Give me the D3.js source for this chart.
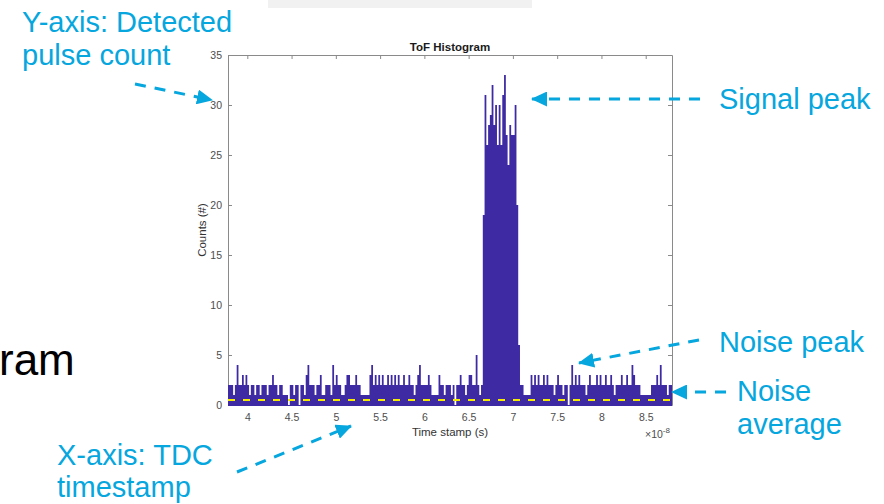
<!DOCTYPE html>
<html lang="en">
<head>
<meta charset="UTF-8">
<title>ToF Histogram</title>
<script src="https://cdn.jsdelivr.net/npm/d3@7"></script>
<style>
  body { margin: 0; background: #fff; }
  svg text { font-family: "Liberation Sans", Arial, sans-serif; }
</style>
</head>
<body>
<div id="viz"></div>
<script>
// histogram counts, bin width 0.02 (x1e-8 s), first bin starts at 3.78
var binStart = 3.78, binWidth = 0.02;

var noiseBefore = [
  2,2,2,1,2,4,2,2,3,2,  3,2,1,2,2,1,2,2,1,2,
  2,2,1,2,2,3,2,2,1,2,  2,1,1,1,0,2,2,1,2,2,
  0,2,2,1,3,4,2,2,2,1,  2,2,3,1,1,2,2,2,1,4,
  2,3,2,2,1,1,2,3,3,2,  2,2,3,2,2,1,1,1,1,1,
  3,4,2,3,2,3,2,3,2,2,  3,2,3,2,3,2,3,2,2,3,
  2,2,3,2,2,1,2,3,4,2,  2,2,2,3,2,1,1,1,1,3,
  2,2,1,2,2,2,1,2,0,2,  2,3,2,2,1,2,3,3,2,2,
  5,2,1,2
];
var signalPeak = [19,31,26,28,29,32,28,30,26,30,26,31,33,27,24,28,27,27,30,20,6,2];
var noiseAfter = [
  2,1,1,1,
  1,3,2,3,2,3,2,2,3,2,  3,2,2,2,1,2,3,2,2,1,
  2,2,0,2,4,2,3,2,3,2,  2,2,1,2,3,2,2,2,3,2,
  3,2,2,3,2,2,3,2,1,2,  2,2,3,2,2,3,2,2,4,3,
  2,2,2,1,1,1,1,1,1,2,  2,2,3,2,4,2,2,2,1,2,2
];
var noiseAverage = 0.5;

var xTicks = [4, 4.5, 5, 5.5, 6, 6.5, 7, 7.5, 8, 8.5];
var yTicks = [0, 5, 10, 15, 20, 25, 30, 35];

var counts = noiseBefore.concat(signalPeak, noiseAfter);
var bins = counts.map(function (c, i) {
  return {x0: binStart + i * binWidth, x1: binStart + (i + 1) * binWidth, count: c};
});
// closing edge for the step outline
var steps = bins.concat([{x0: bins[bins.length - 1].x1, count: 0}]);

var W = 884, H = 504;
var plot = {left: 228, right: 672, top: 55, bottom: 405};
var cyan = '#06a6de';

var svg = d3.select('#viz').append('svg')
  .attr('width', W).attr('height', H);

// faint leftover strip from the slide
svg.append('rect').attr('x', 268).attr('y', 0).attr('width', 264).attr('height', 8)
  .attr('fill', '#f1f1f1');

var x = d3.scaleLinear().domain([3.782, 8.797]).range([plot.left, plot.right]);
var y = d3.scaleLinear().domain([0, 35]).range([plot.bottom, plot.top]);

svg.append('clipPath').attr('id', 'clip')
  .append('rect')
  .attr('x', plot.left).attr('y', plot.top)
  .attr('width', plot.right - plot.left).attr('height', plot.bottom - plot.top + 1);

// axes (MATLAB style: ticks inside, box on)
var axisColor = '#8a8a8a', labelColor = '#4d4d4d';

var gy = svg.append('g')
  .attr('transform', 'translate(' + plot.left + ',0)')
  .call(d3.axisLeft(y).tickValues(yTicks).tickSizeInner(-4).tickSizeOuter(0).tickPadding(6));
var gyr = svg.append('g')
  .attr('transform', 'translate(' + plot.right + ',0)')
  .call(d3.axisRight(y).tickValues(yTicks).tickSizeInner(-4).tickSizeOuter(0).tickFormat(''));
var gx = svg.append('g')
  .attr('transform', 'translate(0,' + plot.bottom + ')')
  .call(d3.axisBottom(x).tickValues(xTicks).tickSizeInner(-4).tickSizeOuter(0).tickPadding(9)
    .tickFormat(d3.format('')));
var gxt = svg.append('g')
  .attr('transform', 'translate(0,' + plot.top + ')')
  .call(d3.axisTop(x).tickValues(xTicks).tickSizeInner(-4).tickSizeOuter(0).tickFormat(''));

[gy, gyr, gx, gxt].forEach(function (g) {
  g.selectAll('path, line').attr('stroke', axisColor);
  g.selectAll('text').attr('fill', labelColor).style('font-size', '10.5px');
});

// histogram as one stepped outline so neighbouring bins do not leave seams
var area = d3.area()
  .curve(d3.curveStepAfter)
  .x(function (d) { return x(d.x0); })
  .y0(y(0) + 1)
  .y1(function (d) { return y(d.count); });

svg.append('path')
  .datum(steps)
  .attr('clip-path', 'url(#clip)')
  .attr('d', area)
  .attr('fill', '#3e2aa3');

// noise average
svg.append('line')
  .attr('x1', plot.left).attr('x2', plot.right)
  .attr('y1', y(noiseAverage)).attr('y2', y(noiseAverage))
  .attr('stroke', '#f5ec00').attr('stroke-width', 2)
  .attr('stroke-dasharray', '7,8');

// titles
svg.append('text').attr('x', (plot.left + plot.right) / 2).attr('y', 51)
  .attr('text-anchor', 'middle').attr('fill', '#1a1a1a')
  .style('font-size', '11.5px').style('font-weight', 'bold')
  .text('ToF Histogram');
svg.append('text').attr('x', (plot.left + plot.right) / 2).attr('y', 436)
  .attr('text-anchor', 'middle').attr('fill', '#333')
  .style('font-size', '11.5px')
  .text('Time stamp (s)');
svg.append('text')
  .attr('transform', 'translate(206,' + (plot.top + plot.bottom) / 2 + ') rotate(-90)')
  .attr('text-anchor', 'middle').attr('fill', '#333')
  .style('font-size', '11.5px')
  .text('Counts (#)');
var exp = svg.append('text').attr('x', 645).attr('y', 438)
  .attr('fill', labelColor).style('font-size', '10.5px');
exp.append('tspan').text('\u00d710');
exp.append('tspan').attr('dy', -5).style('font-size', '8px').text('-8');

// slide title fragment
svg.append('text').attr('x', -1).attr('y', 375)
  .attr('fill', '#000').style('font-size', '44px')
  .text('ram');

// annotations
var defs = svg.append('defs');
defs.append('marker')
  .attr('id', 'head').attr('viewBox', '0 0 16 15')
  .attr('refX', 15).attr('refY', 7.5)
  .attr('markerWidth', 16).attr('markerHeight', 15)
  .attr('markerUnits', 'userSpaceOnUse').attr('orient', 'auto')
  .append('path').attr('d', 'M0,0L16,7.5L0,15Z').attr('fill', cyan);

var arrows = [
  [135, 84, 212, 100],
  [700, 99, 532, 99],
  [699, 340, 579, 363],
  [726, 392, 672, 392],
  [237, 472, 351, 426]
];
svg.selectAll('line.arrow').data(arrows).enter().append('line')
  .attr('class', 'arrow')
  .attr('x1', function (d) { return d[0]; }).attr('y1', function (d) { return d[1]; })
  .attr('x2', function (d) { return d[2]; }).attr('y2', function (d) { return d[3]; })
  .attr('stroke', cyan).attr('stroke-width', 3)
  .attr('stroke-dasharray', '11,9')
  .attr('marker-end', 'url(#head)');

var notes = [
  {x: 22, y: 32, t: 'Y-axis: Detected'},
  {x: 22, y: 65, t: 'pulse count'},
  {x: 719, y: 109, t: 'Signal peak'},
  {x: 719, y: 352, t: 'Noise peak'},
  {x: 737, y: 401, t: 'Noise'},
  {x: 737, y: 434, t: 'average'},
  {x: 57, y: 465, t: 'X-axis: TDC'},
  {x: 57, y: 497, t: 'timestamp'}
];
svg.selectAll('text.note').data(notes).enter().append('text')
  .attr('class', 'note')
  .attr('x', function (d) { return d.x; })
  .attr('y', function (d) { return d.y; })
  .attr('fill', cyan).style('font-size', '29px')
  .text(function (d) { return d.t; });
</script>
</body>
</html>
